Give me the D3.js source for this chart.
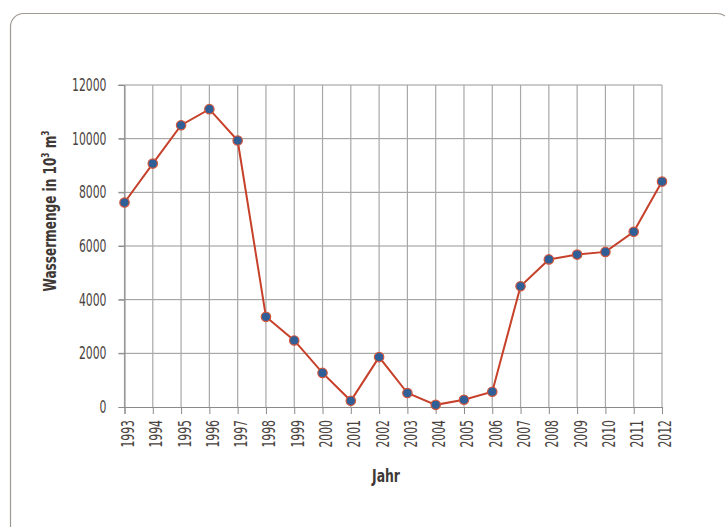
<!DOCTYPE html>
<html>
<head>
<meta charset="utf-8">
<script src="https://cdn.jsdelivr.net/npm/d3@7"></script>
<style>
  html, body { margin: 0; padding: 0; background: #fff; }
  svg { display: block; }
</style>
</head>
<body>
<svg id="chart" width="725" height="527"></svg>
<script>
// Jährliche Wassermenge (in 10³ m³)
const years = [1993, 1994, 1995, 1996, 1997, 1998, 1999, 2000, 2001, 2002,
               2003, 2004, 2005, 2006, 2007, 2008, 2009, 2010, 2011, 2012];
const values = [7620, 9070, 10500, 11100, 9930, 3360, 2480, 1270, 230, 1860,
                520, 80, 270, 570, 4500, 5500, 5680, 5780, 6530, 8400];
const yTicks = [0, 2000, 4000, 6000, 8000, 10000, 12000];

(function () {
  const svg = d3.select("#chart");
  const textColor = "#4a4340";
  const font = '"DejaVu Sans Condensed", "DejaVu Sans", sans-serif';

  // horizontal squeeze factor that gives a text node the wanted length
  function squeeze(node, wanted) {
    const len = node.getComputedTextLength();
    return len > 0 ? wanted / len : 1;
  }

  // outer frame
  svg.append("rect")
    .attr("x", 10.5).attr("y", 13.5)
    .attr("width", 720).attr("height", 540)
    .attr("rx", 13).attr("ry", 13)
    .attr("fill", "none")
    .attr("stroke", "#9f9994")
    .attr("stroke-width", 1.2);

  const plotLeft = 124.5, plotRight = 662, plotTop = 85, plotBottom = 407;

  const x = d3.scalePoint().domain(years).range([plotLeft, plotRight]);
  const y = d3.scaleLinear().domain([0, 12000]).range([plotBottom, plotTop]);

  const g = svg.append("g");

  // horizontal grid lines
  g.append("g").selectAll("line").data(yTicks.filter(d => d > 0)).join("line")
    .attr("x1", plotLeft - 6).attr("x2", plotRight)
    .attr("y1", d => y(d)).attr("y2", d => y(d))
    .attr("stroke", "#969696").attr("stroke-width", 1);

  // vertical grid lines
  g.append("g").selectAll("line").data(years).join("line")
    .attr("x1", d => x(d)).attr("x2", d => x(d))
    .attr("y1", plotTop).attr("y2", plotBottom)
    .attr("stroke", "#a8a8a8").attr("stroke-width", 1.2);

  // y axis
  const yAxis = d3.axisLeft(y).tickValues(yTicks).tickSize(6).tickPadding(11)
    .tickFormat(d3.format("d"));
  const ya = g.append("g").attr("transform", `translate(${plotLeft},0)`).call(yAxis);
  ya.select(".domain").attr("stroke", "#8a8a8a");
  ya.selectAll(".tick line").attr("stroke", "#8a8a8a");
  const yLabels = ya.selectAll(".tick text")
    .attr("fill", textColor).attr("font-size", 17).attr("font-family", font)
    .attr("x", 0);
  const yMax = yLabels.filter(d => d === 12000).node();
  const tickScale = squeeze(yMax, 34.5);
  yLabels.attr("transform", `translate(-18,0) scale(${tickScale},1)`);

  // x axis
  const xAxis = d3.axisBottom(x).tickSize(7).tickPadding(6);
  const xa = g.append("g").attr("transform", `translate(0,${plotBottom})`).call(xAxis);
  xa.select(".domain").attr("stroke", "#8a8a8a");
  xa.selectAll(".tick line").attr("stroke", "#8a8a8a");
  xa.selectAll(".tick text")
    .attr("fill", textColor).attr("font-size", 17).attr("font-family", font)
    .attr("text-anchor", "end")
    .attr("x", 0).attr("y", 0).attr("dy", "0.35em")
    .attr("transform", `rotate(-90) translate(-13,3) scale(${tickScale},1)`);

  // data line
  const line = d3.line().x((d, i) => x(years[i])).y(d => y(d));
  g.append("path").datum(values)
    .attr("d", line)
    .attr("fill", "none")
    .attr("stroke", "#c6402a")
    .attr("stroke-width", 2);

  g.append("g").selectAll("circle").data(values).join("circle")
    .attr("cx", (d, i) => x(years[i])).attr("cy", d => y(d))
    .attr("r", 4.7)
    .attr("fill", "#2f5f96")
    .attr("stroke", "#d2553c")
    .attr("stroke-width", 1.2);

  // axis titles
  const yt = svg.append("text")
    .attr("text-anchor", "middle")
    .attr("font-family", font).attr("font-weight", "bold")
    .attr("font-size", 18).attr("fill", "#3f3936");
  yt.append("tspan").text("Wassermenge in 10");
  yt.append("tspan").attr("dy", -7).attr("font-size", 11).text("3");
  yt.append("tspan").attr("dy", 7).text(" m");
  yt.append("tspan").attr("dy", -7).attr("font-size", 11).text("3");
  const ytScale = squeeze(yt.node(), 161);
  yt.attr("transform", `translate(56,211) rotate(-90) scale(${ytScale},1)`);

  const xt = svg.append("text")
    .attr("text-anchor", "middle")
    .attr("font-family", font).attr("font-weight", "bold")
    .attr("font-size", 18).attr("fill", "#3f3936")
    .text("Jahr");
  const xtScale = squeeze(xt.node(), 28);
  xt.attr("transform", `translate(386,482) scale(${xtScale},1)`);
})();
</script>
</body>
</html>
